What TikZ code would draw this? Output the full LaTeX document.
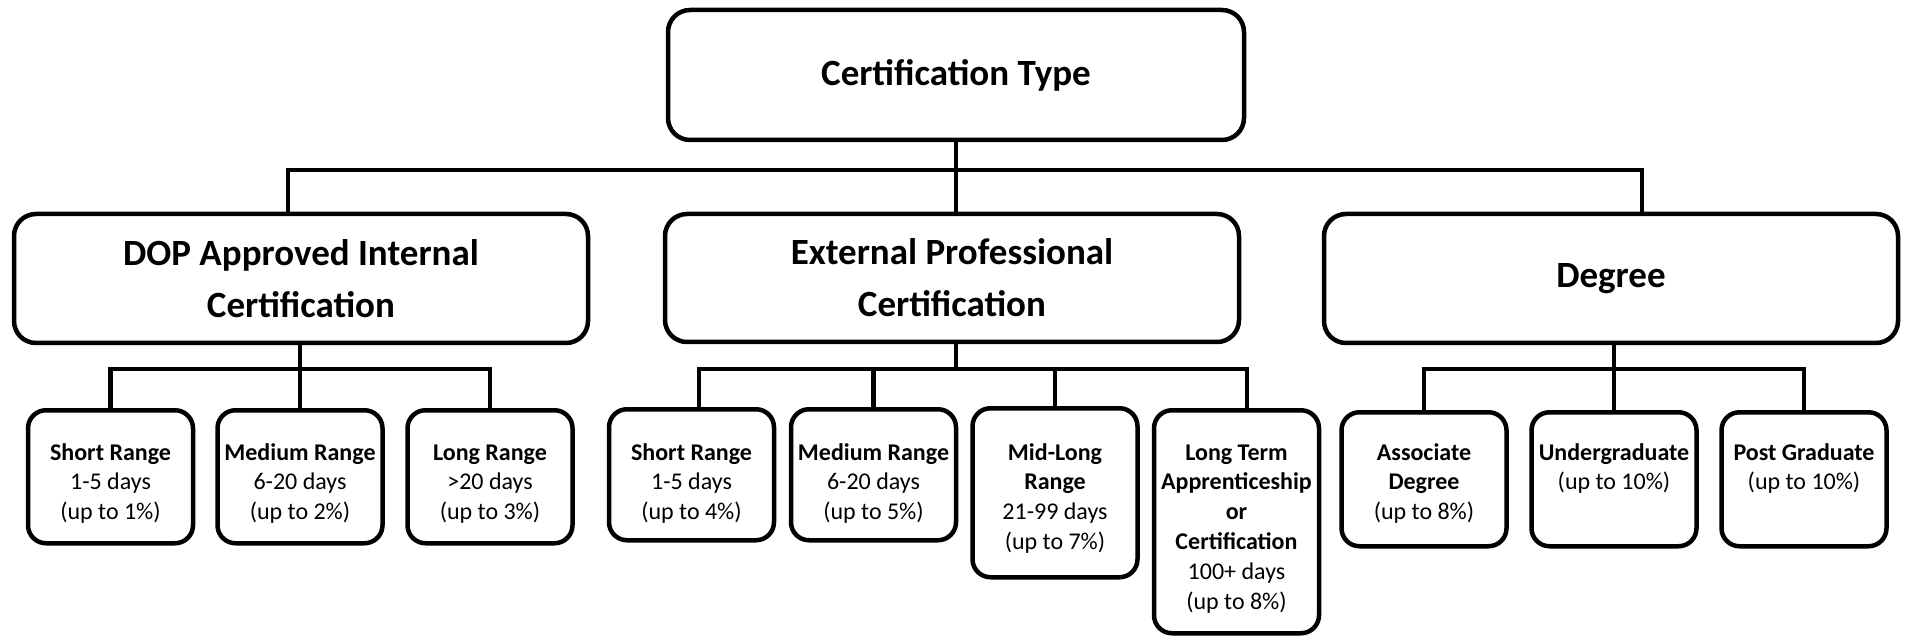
\documentclass[tikz,border=0pt]{standalone}
\usepackage{fontspec}
\setmainfont{Carlito}
\newcommand{\leafnode}[5]{\node[leaf] (#1) at (#2,#3) {\parbox[c][#4pt][t]{165pt}{\centering\vspace*{\dimexpr437pt-#3pt\relax}\strut#5}};}
\begin{document}
\begin{tikzpicture}[x=1pt,y=-1pt,
  box/.style={draw, line width=4.5pt, rounded corners=22pt, inner sep=0pt, align=center,
    font=\fontsize{37}{52}\selectfont\bfseries},
  leaf/.style={draw, line width=4.5pt, rounded corners=18pt, inner sep=0pt, anchor=north,
    font=\fontsize{24}{29.8}\selectfont},
  conn/.style={line width=4.5pt}]
\useasboundingbox (0,0) rectangle (1907,636);
% top
\node[box, minimum width=576pt, minimum height=130pt] (root) at (956,75) {Certification Type};
% level 1
\node[box, minimum width=574pt, minimum height=129pt] (dop) at (301,278.5) {DOP Approved Internal\\Certification};
\node[box, minimum width=574pt, minimum height=128pt] (ext) at (952,278) {External Professional\\Certification};
\node[box, minimum width=574pt, minimum height=129pt] (deg) at (1611,278.5) {Degree};
% level 2
\leafnode{dsr}{110.5}{408}{133}{\textbf{Short Range}\\1-5 days\\(up to 1\%)}
\leafnode{dmr}{300}{408}{133}{\textbf{Medium Range}\\6-20 days\\(up to 2\%)}
\leafnode{dlr}{490}{408}{133}{\textbf{Long Range}\\>20 days\\(up to 3\%)}
\leafnode{esr}{691.5}{407}{131}{\textbf{Short Range}\\1-5 days\\(up to 4\%)}
\leafnode{emr}{873.5}{407}{131}{\textbf{Medium Range}\\6-20 days\\(up to 5\%)}
\leafnode{eml}{1055}{406}{169}{\textbf{Mid-Long}\\\textbf{Range}\\21-99 days\\(up to 7\%)}
\leafnode{elt}{1236.5}{408}{223}{\textbf{Long Term}\\\textbf{Apprenticeship}\\\textbf{or}\\\textbf{Certification}\\100+ days\\(up to 8\%)}
\leafnode{das}{1424}{410}{134}{\textbf{Associate}\\\textbf{Degree}\\(up to 8\%)}
\leafnode{dug}{1614}{410}{134}{\textbf{Undergraduate}\\(up to 10\%)}
\leafnode{dpg}{1804}{410}{134}{\textbf{Post Graduate}\\(up to 10\%)}
% connectors level 1
\coordinate (bar1) at (0,170);
\coordinate (bar2) at (0,369);
\coordinate (dopT) at ([xshift=-13pt]dop.north);
\coordinate (degT) at ([xshift=31pt]deg.north);
\draw[conn] (root.south) -- (root.south |- ext.north);
\draw[conn] (dopT) -- (dopT |- bar1) -- (degT |- bar1) -- (degT);
% connectors level 2: DOP
\draw[conn] (dop.south -| dmr.north) -- (dmr.north);
\draw[conn] (dsr.north) -- (dsr.north |- bar2) -- (dlr.north |- bar2) -- (dlr.north);
% External
\coordinate (esrT) at ([xshift=7.5pt]esr.north);
\coordinate (eltT) at ([xshift=10.5pt]elt.north);
\draw[conn] (ext.south -| root.south) -- (root.south |- bar2);
\draw[conn] (esrT) -- (esrT |- bar2) -- (eltT |- bar2) -- (eltT);
\draw[conn] (emr.north) -- (emr.north |- bar2);
\draw[conn] (eml.north) -- (eml.north |- bar2);
% Degree
\draw[conn] (deg.south -| dug.north) -- (dug.north);
\draw[conn] (das.north) -- (das.north |- bar2) -- (dpg.north |- bar2) -- (dpg.north);
\end{tikzpicture}
\end{document}
